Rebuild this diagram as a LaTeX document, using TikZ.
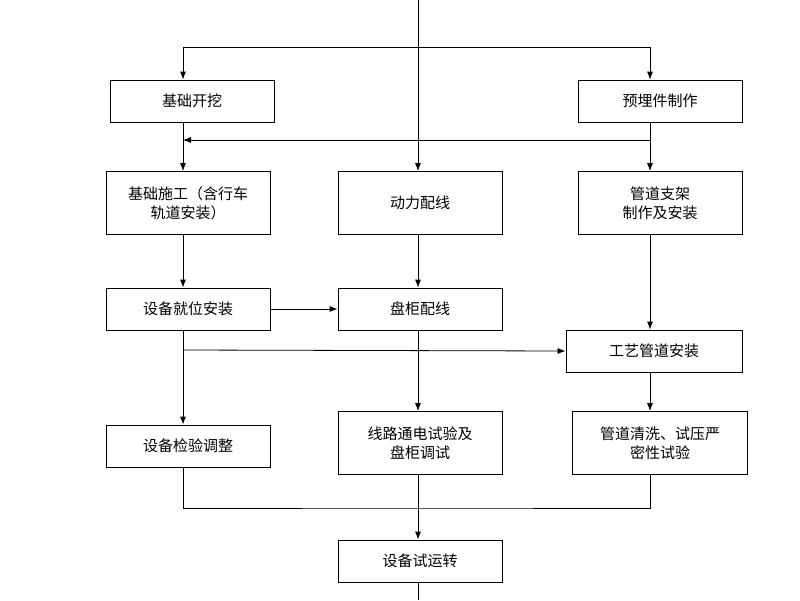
\documentclass[tikz,border=0pt]{standalone}
\usepackage{fontspec}
\newfontfamily\cjk{Noto Sans CJK SC}
\usetikzlibrary{positioning,arrows.meta}
\begin{document}
\begin{tikzpicture}[x=1pt,y=-1pt,>={Latex[length=8pt,width=6pt]},
  box/.style={draw,thick,font=\cjk\fontsize{15}{19}\selectfont,align=center,inner sep=0pt},
  thin/.style={box,minimum width=164pt,minimum height=42pt},
  tall/.style={box,minimum width=164pt,minimum height=63pt},
  every path/.style={thick}]
\useasboundingbox (0,0) rectangle (800,600);
% top row
\node[thin] (dig) at (192,101) {基础开挖};
\node[thin] (emb) at (660,101) {预埋件制作};
% second row
\node[tall] (found) at (188,203) {基础施工（含行车\\轨道安装）};
\node[tall] (power) at (420,203) {动力配线};
\node[tall] (supp) at (660,203) {管道支架\\制作及安装};
% third row
\node[thin] (place) at (188,309) {设备就位安装};
\node[thin] (cab) at (420,309) {盘柜配线};
\node[box,minimum width=176pt,minimum height=42pt] (pipe) at (654,351) {工艺管道安装};
% fourth row
\node[thin] (check) at (188,446) {设备检验调整};
\node[tall] (test) at (420,443) {线路通电试验及\\盘柜调试};
\node[box,minimum width=175pt,minimum height=63pt] (clean) at (660,443) {管道清洗、试压严\\密性试验};
% last
\node[thin] (run) at (420,561) {设备试运转};
\coordinate (top) at (418,0);
\coordinate (bot) at (418,600);
\coordinate (split) at (418,47);
\coordinate (join) at (418,508);

\draw[->] (top) -- (power.north -| top);
\draw[->] (split) -| (dig.north -| 183,0);
\draw[->] (split) -| (emb.north -| 650,0);
\draw[->] (dig.south -| 183,0) -- (found.north -| 183,0);
\draw[->] (emb.south -| 650,0) -- (supp.north -| 650,0);
\draw[->] (650,140) -- (183,140);
\draw[->] (found.south -| 183,0) -- (place.north -| 183,0);
\draw[->] (place) -- (cab);
\draw[->] (power.south -| 418,0) -- (cab.north -| 418,0);
\draw[->] (supp.south -| 650,0) -- (pipe.north -| 650,0);
\draw[->] (183,350) -- (pipe.west);
\draw[->] (place.south -| 183,0) -- (check.north -| 183,0);
\draw[->] (cab.south -| 418,0) -- (test.north -| 418,0);
\draw[->] (pipe.south -| 650,0) -- (clean.north -| 650,0);
\draw (check.south -| 183,0) |- (join) -| (clean.south -| 650,0);
\draw[->] (test.south -| 418,0) -- (run.north -| 418,0);
\draw (run.south -| 418,0) -- (bot);
\end{tikzpicture}
\end{document}
